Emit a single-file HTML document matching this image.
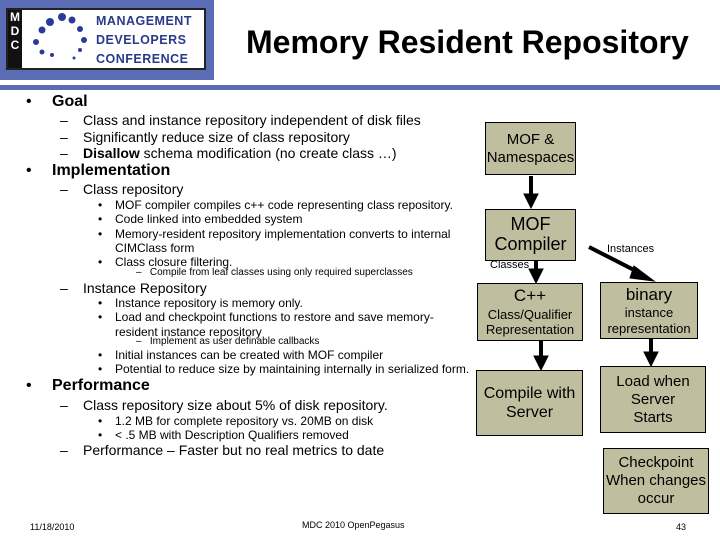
<!DOCTYPE html>
<html><head><style>
body{margin:0;width:720px;height:540px;position:relative;background:#fff;font-family:"Liberation Sans",sans-serif;overflow:hidden;color:#000}
.t{position:absolute;white-space:nowrap}
.d{position:absolute}
.b{position:absolute;background:#bfbf9f;border:1px solid #000;box-sizing:border-box;text-align:center;display:flex;flex-direction:column;justify-content:center;line-height:1.2}
</style></head><body>
<div style="position:absolute;left:0;top:0;width:214px;height:80px;background:#5a6cb4"></div>
<div style="position:absolute;left:6px;top:8px;width:200px;height:62px;background:#fff;border:2px solid #222;box-sizing:border-box"></div>
<div style="position:absolute;left:8px;top:10px;width:14px;height:58px;background:#111;color:#fff;font-weight:bold;font-size:12px;text-align:center;line-height:14px">M<br>D<br>C</div>
<svg style="position:absolute;left:28px;top:12px" width="70" height="55">
<circle cx="22" cy="10" r="4" fill="#2a3a9a"/><circle cx="34" cy="5" r="4" fill="#2a3a9a"/><circle cx="44" cy="8" r="3.5" fill="#2a3a9a"/><circle cx="14" cy="18" r="3.5" fill="#2a3a9a"/><circle cx="8" cy="30" r="3" fill="#2a3a9a"/><circle cx="14" cy="40" r="2.5" fill="#2a3a9a"/><circle cx="24" cy="43" r="2" fill="#2a3a9a"/><circle cx="52" cy="17" r="3" fill="#2a3a9a"/><circle cx="56" cy="28" r="3" fill="#2a3a9a"/><circle cx="52" cy="38" r="2" fill="#2a3a9a"/><circle cx="46" cy="46" r="1.5" fill="#2a3a9a"/>
</svg>
<div class="t" style="left:96px;top:12px;font-size:12.5px;font-weight:bold;color:#2a3a8a;line-height:19px;letter-spacing:0.5px">MANAGEMENT<br>DEVELOPERS<br>CONFERENCE</div>
<div style="position:absolute;left:0;top:85px;width:720px;height:5px;background:#5a6cb4"></div>
<div class="t" style="left:246px;top:24px;font-size:32px;font-weight:bold">Memory Resident Repository</div>

<div class="t" style="left:26px;top:93px;font-size:16px">•</div>
<div class="t" style="left:52px;top:93px;font-size:16px;font-weight:bold">Goal</div>
<div class="t" style="left:60px;top:112px;font-size:14px;line-height:16.5px">–<br>–<br>–</div>
<div class="t" style="left:83px;top:112px;font-size:14px;line-height:16.5px">Class and instance repository independent of disk files<br>Significantly reduce size of class repository<br><b>Disallow</b> schema modification (no create class …)</div>
<div class="t" style="left:26px;top:162px;font-size:16px">•</div>
<div class="t" style="left:52px;top:162px;font-size:16px;font-weight:bold">Implementation</div>
<div class="t" style="left:60px;top:181px;font-size:14px">–</div>
<div class="t" style="left:83px;top:181px;font-size:14px">Class repository</div>
<div class="t" style="left:98px;top:198px;font-size:12px;line-height:14.3px">•<br>•<br>•<br><br>•</div>
<div class="t" style="left:115px;top:198px;font-size:12px;line-height:14.3px">MOF compiler compiles c++ code representing class repository.<br>Code linked into embedded system<br>Memory-resident repository implementation converts to internal<br>CIMClass form<br>Class closure filtering.</div>
<div class="t" style="left:136px;top:267px;font-size:10px">–&nbsp;&nbsp; Compile from leaf classes using only required superclasses</div>
<div class="t" style="left:60px;top:280px;font-size:14px">–</div>
<div class="t" style="left:83px;top:280px;font-size:14px">Instance Repository</div>
<div class="t" style="left:98px;top:296px;font-size:12px;line-height:14.3px">•<br>•</div>
<div class="t" style="left:115px;top:296px;font-size:12px;line-height:14.3px">Instance repository is memory only.<br>Load and checkpoint functions to restore and save memory-<br>resident instance repository</div>
<div class="t" style="left:136px;top:336px;font-size:10px">–&nbsp;&nbsp; Implement as user definable callbacks</div>
<div class="t" style="left:98px;top:348px;font-size:12px;line-height:14.3px">•<br>•</div>
<div class="t" style="left:115px;top:348px;font-size:12px;line-height:14.3px">Initial instances can be created with MOF compiler<br>Potential to reduce size by maintaining internally in serialized form.</div>
<div class="t" style="left:26px;top:377px;font-size:16px">•</div>
<div class="t" style="left:52px;top:377px;font-size:16px;font-weight:bold">Performance</div>
<div class="t" style="left:60px;top:397px;font-size:14px">–</div>
<div class="t" style="left:83px;top:397px;font-size:14px">Class repository size about 5% of disk repository.</div>
<div class="t" style="left:98px;top:414px;font-size:12px;line-height:14.3px">•<br>•</div>
<div class="t" style="left:115px;top:414px;font-size:12px;line-height:14.3px">1.2 MB for complete repository vs. 20MB on disk<br>&lt; .5 MB with Description Qualifiers removed</div>
<div class="t" style="left:60px;top:442px;font-size:14px">–</div>
<div class="t" style="left:83px;top:442px;font-size:14px">Performance – Faster but no real metrics to date</div>

<div class="b" style="left:485px;top:122px;width:91px;height:53px;font-size:15px">MOF &amp;<br>Namespaces</div>
<div class="b" style="left:485px;top:209px;width:91px;height:52px;font-size:18px;line-height:1.1">MOF<br>Compiler</div>
<div class="b" style="left:477px;top:283px;width:106px;height:58px;font-size:13px"><span style="font-size:17px">C++</span>Class/Qualifier<br>Representation</div>
<div class="b" style="left:600px;top:282px;width:98px;height:57px;font-size:13px"><span style="font-size:17px">binary</span>instance<br>representation</div>
<div class="b" style="left:476px;top:370px;width:107px;height:66px;font-size:16px">Compile with<br>Server</div>
<div class="b" style="left:600px;top:366px;width:106px;height:67px;font-size:15px">Load when<br>Server<br>Starts</div>
<div class="b" style="left:603px;top:448px;width:106px;height:66px;font-size:15px">Checkpoint<br>When changes<br>occur</div>
<div class="t" style="left:490px;top:259px;font-size:11px">Classes</div>
<div class="t" style="left:607px;top:243px;font-size:11px">Instances</div>
<svg style="position:absolute;left:0;top:0" width="720" height="540">
<g stroke="#000" stroke-width="4" fill="#000">
<line x1="531" y1="176" x2="531" y2="195"/><polygon points="524,194 538,194 531,208" stroke-width="1"/>
<line x1="536" y1="261" x2="536" y2="270"/><polygon points="529,269 543,269 536,283" stroke-width="1"/>
<line x1="589" y1="247" x2="640" y2="273"/><polygon points="634,266 654,281 630,278" stroke-width="1"/>
<line x1="541" y1="341" x2="541" y2="357"/><polygon points="534,356 548,356 541,370" stroke-width="1"/>
<line x1="651" y1="339" x2="651" y2="353"/><polygon points="644,352 658,352 651,366" stroke-width="1"/>
</g></svg>
<div class="t" style="left:30px;top:522px;font-size:9px">11/18/2010</div>
<div class="t" style="left:302px;top:520px;font-size:9px">MDC 2010 OpenPegasus</div>
<div class="t" style="left:676px;top:522px;font-size:9px">43</div>
</body></html>
